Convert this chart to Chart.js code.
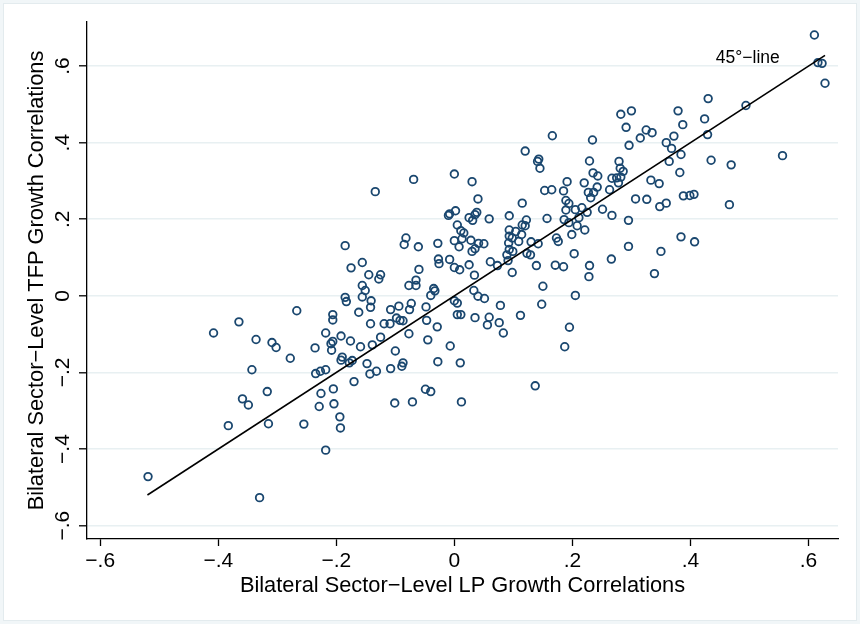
<!DOCTYPE html>
<html>
<head>
<meta charset="utf-8">
<script src="https://cdn.jsdelivr.net/npm/chart.js@4.4.1/dist/chart.umd.min.js"></script>
<style>
  html, body { margin: 0; padding: 0; background: #ffffff; }
  #wrap { width: 860px; height: 624px; }
</style>
</head>
<body>
<div id="wrap"><canvas id="c" width="860" height="624"></canvas></div>
<script>
// Bilateral sector-level growth correlations: labour productivity (x) vs TFP (y)
const lpGrowthCorr = [
  0.166,0.234,0.120,0.143,0.141,0.145,0.229,0.235,0.243,-0.069,
  0.000,0.030,-0.134,0.153,0.165,0.185,0.191,0.220,0.227,0.242,
  0.236,0.231,0.610,0.616,0.623,0.628,0.494,0.430,0.424,0.429,
  0.379,0.387,0.372,0.359,0.368,0.384,0.364,0.382,0.435,0.469,
  0.556,0.282,0.300,0.291,0.325,0.335,0.315,0.296,0.279,0.281,
  0.286,0.282,0.275,0.267,0.278,0.263,0.333,0.347,0.388,0.399,
  0.406,0.251,0.267,0.295,0.307,0.326,0.348,0.359,0.466,0.295,
  0.266,0.384,0.407,0.350,0.339,0.040,0.115,0.189,0.194,0.216,
  0.205,0.189,0.225,0.002,-0.008,-0.010,0.038,0.035,0.025,0.031,
  0.059,0.093,0.157,0.122,0.186,0.194,0.211,0.208,0.005,0.011,
  0.016,0.115,0.120,0.093,0.104,0.114,0.221,0.199,0.093,0.098,
  -0.082,-0.085,-0.061,-0.028,0.000,0.013,0.028,0.008,0.041,0.050,
  0.092,0.109,0.130,0.142,0.173,0.176,0.035,0.030,0.093,0.099,
  -0.185,0.089,0.123,0.129,0.203,-0.027,-0.026,-0.008,0.025,0.061,
  0.073,0.091,0.139,0.171,0.185,0.229,0.228,-0.156,-0.175,0.000,
  0.009,-0.060,0.098,-0.145,-0.125,-0.128,0.034,-0.065,-0.065,-0.077,
  -0.156,-0.151,-0.035,-0.033,0.150,0.033,-0.040,-0.156,-0.185,-0.183,
  0.040,0.051,0.205,-0.141,-0.142,0.000,0.005,-0.073,-0.076,0.078,
  0.148,-0.108,-0.094,-0.162,-0.048,0.005,0.011,0.035,0.059,0.112,
  -0.098,-0.092,-0.087,-0.047,-0.119,-0.109,-0.142,0.056,0.076,-0.029,
  0.195,-0.077,0.083,-0.192,-0.125,-0.176,-0.045,-0.139,-0.159,-0.007,
  0.187,-0.100,-0.190,-0.192,-0.173,-0.178,-0.148,-0.087,-0.089,-0.028,
  0.010,-0.170,-0.143,-0.132,-0.108,-0.101,-0.071,-0.049,-0.040,0.012,
  0.137,-0.343,-0.235,-0.227,-0.218,-0.317,-0.359,-0.349,-0.226,-0.205,
  -0.229,-0.204,-0.194,-0.193,-0.383,-0.315,-0.255,-0.218,-0.519,-0.330,
  -0.267,-0.206,-0.206,-0.365,-0.408,-0.336,-0.309,-0.302,-0.218,-0.206,
  -0.209,-0.236,-0.208,-0.278
];
const tfpGrowthCorr = [
  0.418,0.407,0.378,0.357,0.351,0.333,0.352,0.321,0.313,0.304,
  0.318,0.298,0.272,0.275,0.277,0.274,0.298,0.295,0.270,0.284,
  0.270,0.256,0.681,0.609,0.607,0.555,0.497,0.515,0.462,0.421,
  0.483,0.447,0.417,0.400,0.385,0.369,0.351,0.322,0.354,0.342,
  0.366,0.474,0.483,0.440,0.433,0.426,0.412,0.393,0.351,0.333,
  0.325,0.310,0.308,0.307,0.295,0.277,0.302,0.293,0.261,0.262,
  0.265,0.226,0.210,0.197,0.253,0.252,0.233,0.242,0.238,0.129,
  0.096,0.154,0.141,0.116,0.058,0.253,0.242,0.249,0.241,0.230,
  0.225,0.224,0.218,0.222,0.214,0.210,0.218,0.212,0.204,0.197,
  0.201,0.209,0.202,0.198,0.199,0.191,0.204,0.183,0.185,0.170,
  0.164,0.185,0.183,0.172,0.168,0.160,0.172,0.160,0.156,0.151,
  0.151,0.134,0.128,0.137,0.144,0.149,0.145,0.128,0.137,0.136,
  0.138,0.142,0.141,0.136,0.151,0.142,0.123,0.116,0.121,0.116,
  0.131,0.107,0.111,0.107,0.110,0.096,0.084,0.095,0.081,0.089,
  0.079,0.092,0.079,0.080,0.076,0.079,0.050,0.087,0.073,0.074,
  0.068,0.069,0.061,0.055,0.055,0.044,0.054,0.041,0.027,0.027,
  0.027,0.014,0.019,0.013,0.025,0.014,0.001,-0.003,-0.004,-0.015,
  -0.001,-0.007,0.001,-0.013,-0.030,-0.013,-0.019,-0.020,-0.036,-0.025,
  -0.022,-0.036,-0.027,-0.043,-0.029,-0.049,-0.049,-0.057,-0.056,-0.051,
  -0.058,-0.064,-0.065,-0.064,-0.073,-0.073,-0.073,-0.076,-0.070,-0.081,
  -0.082,-0.099,-0.097,-0.105,-0.108,-0.118,-0.115,-0.128,-0.133,-0.131,
  -0.133,-0.144,-0.160,-0.168,-0.169,-0.175,-0.177,-0.175,-0.184,-0.172,
  -0.175,-0.224,-0.204,-0.197,-0.190,-0.280,-0.277,-0.244,-0.250,-0.277,
  -0.235,-0.193,-0.203,-0.197,-0.193,-0.250,-0.269,-0.285,-0.255,-0.243,
  -0.289,-0.282,-0.316,-0.345,-0.339,-0.334,-0.335,-0.403,-0.472,-0.527,
  -0.039,-0.049,-0.063,-0.068,-0.097,-0.114,-0.122,-0.135,-0.097,-0.119,
  -0.125,-0.136,-0.142,-0.163
];
// 45-degree reference line end points
const lineX = [-0.52, 0.628];
const lineY = [-0.52, 0.628];
// Tick values for both axes
const xTickValues = [-0.6, -0.4, -0.2, 0, 0.2, 0.4, 0.6];
const yTickValues = [-0.6, -0.4, -0.2, 0, 0.2, 0.4, 0.6];

const FONT = "'Liberation Sans', Arial, Helvetica, sans-serif";
const NAVY = '#1a476f';

function fmtTick(v) {
  const r = Math.round(v * 10);
  if (r === 0) return '0';
  return (r < 0 ? '\u2212' : '') + '.' + Math.abs(r);
}

const scatterPoints = lpGrowthCorr.map((x, i) => ({ x: x, y: tfpGrowthCorr[i] }));
const linePoints = lineX.map((x, i) => ({ x: x, y: lineY[i] }));

const decorPlugin = {
  id: 'decor',
  beforeDraw(chart) {
    const ctx = chart.ctx;
    ctx.save();
    ctx.fillStyle = '#f1f6f8';
    ctx.fillRect(0, 0, chart.width, chart.height);
    ctx.fillStyle = '#ffffff';
    ctx.fillRect(4, 4, chart.width - 8, chart.height - 8);
    ctx.strokeStyle = '#e3ebee';
    ctx.lineWidth = 1;
    ctx.strokeRect(3.5, 3.5, chart.width - 7, chart.height - 7);
    ctx.restore();
  },
  afterDraw(chart) {
    const ctx = chart.ctx;
    const xs = chart.scales.x, ys = chart.scales.y;
    const area = chart.chartArea;
    ctx.save();
    ctx.fillStyle = '#000000';
    // rotated y tick labels
    ctx.font = '21px ' + FONT;
    ctx.textAlign = 'center';
    ctx.textBaseline = 'middle';
    yTickValues.forEach(v => {
      const py = ys.getPixelForValue(v);
      ctx.save();
      ctx.translate(63, py);
      ctx.rotate(-Math.PI / 2);
      ctx.fillText(fmtTick(v), 0, 0);
      ctx.restore();
    });
    // axis titles
    ctx.textBaseline = 'alphabetic';
    ctx.font = '21.8px ' + FONT;
    ctx.fillText('Bilateral Sector\u2212Level LP Growth Correlations', (area.left + area.right) / 2, 591.5);
    ctx.save();
    ctx.translate(43, (area.top + area.bottom) / 2);
    ctx.rotate(-Math.PI / 2);
    ctx.fillText('Bilateral Sector\u2212Level TFP Growth Correlations', 0, 0);
    ctx.restore();
    // label of the 45-degree line
    ctx.font = '17.5px ' + FONT;
    ctx.textAlign = 'left';
    ctx.fillText('45\u00b0\u2212line', xs.getPixelForValue(0.443), ys.getPixelForValue(0.607));
    ctx.restore();
  }
};

new Chart(document.getElementById('c'), {
  data: {
    datasets: [
      {
        type: 'scatter',
        data: scatterPoints,
        pointStyle: 'circle',
        pointRadius: 3.8,
        pointHoverRadius: 3.8,
        pointBorderWidth: 1.8,
        pointBorderColor: NAVY,
        pointBackgroundColor: 'rgba(0,0,0,0)',
        order: 2
      },
      {
        type: 'line',
        data: linePoints,
        borderColor: '#000000',
        borderWidth: 1.6,
        pointRadius: 0,
        fill: false,
        order: 1
      }
    ]
  },
  options: {
    responsive: false,
    animation: false,
    devicePixelRatio: 1,
    layout: { padding: { left: 0, top: 22, right: 22, bottom: 0 } },
    plugins: { legend: { display: false }, tooltip: { enabled: false } },
    scales: {
      x: {
        type: 'linear',
        position: 'bottom',
        min: -0.6224,
        max: 0.650,
        afterBuildTicks: s => { s.ticks = xTickValues.map(v => ({ value: v })); },
        afterFit: s => { s.height = 85; },
        border: { display: true, color: '#000000', width: 1.3 },
        grid: {
          drawOnChartArea: false,
          drawTicks: true,
          tickLength: 7,
          tickColor: '#000000',
          tickWidth: 1.3
        },
        ticks: {
          font: { family: FONT, size: 21 },
          color: '#000000',
          padding: 3,
          maxRotation: 0,
          autoSkip: false,
          callback: v => fmtTick(v)
        }
      },
      y: {
        type: 'linear',
        position: 'left',
        min: -0.635,
        max: 0.715,
        afterBuildTicks: s => { s.ticks = yTickValues.map(v => ({ value: v })); },
        afterFit: s => { s.width = 87; },
        border: { display: true, color: '#000000', width: 1.3 },
        grid: {
          color: '#e8f0f2',
          lineWidth: 1.6,
          drawTicks: true,
          tickLength: 8,
          tickColor: '#000000',
          tickWidth: 1.3
        },
        ticks: { display: false }
      }
    }
  },
  plugins: [decorPlugin]
});
</script>
</body>
</html>
